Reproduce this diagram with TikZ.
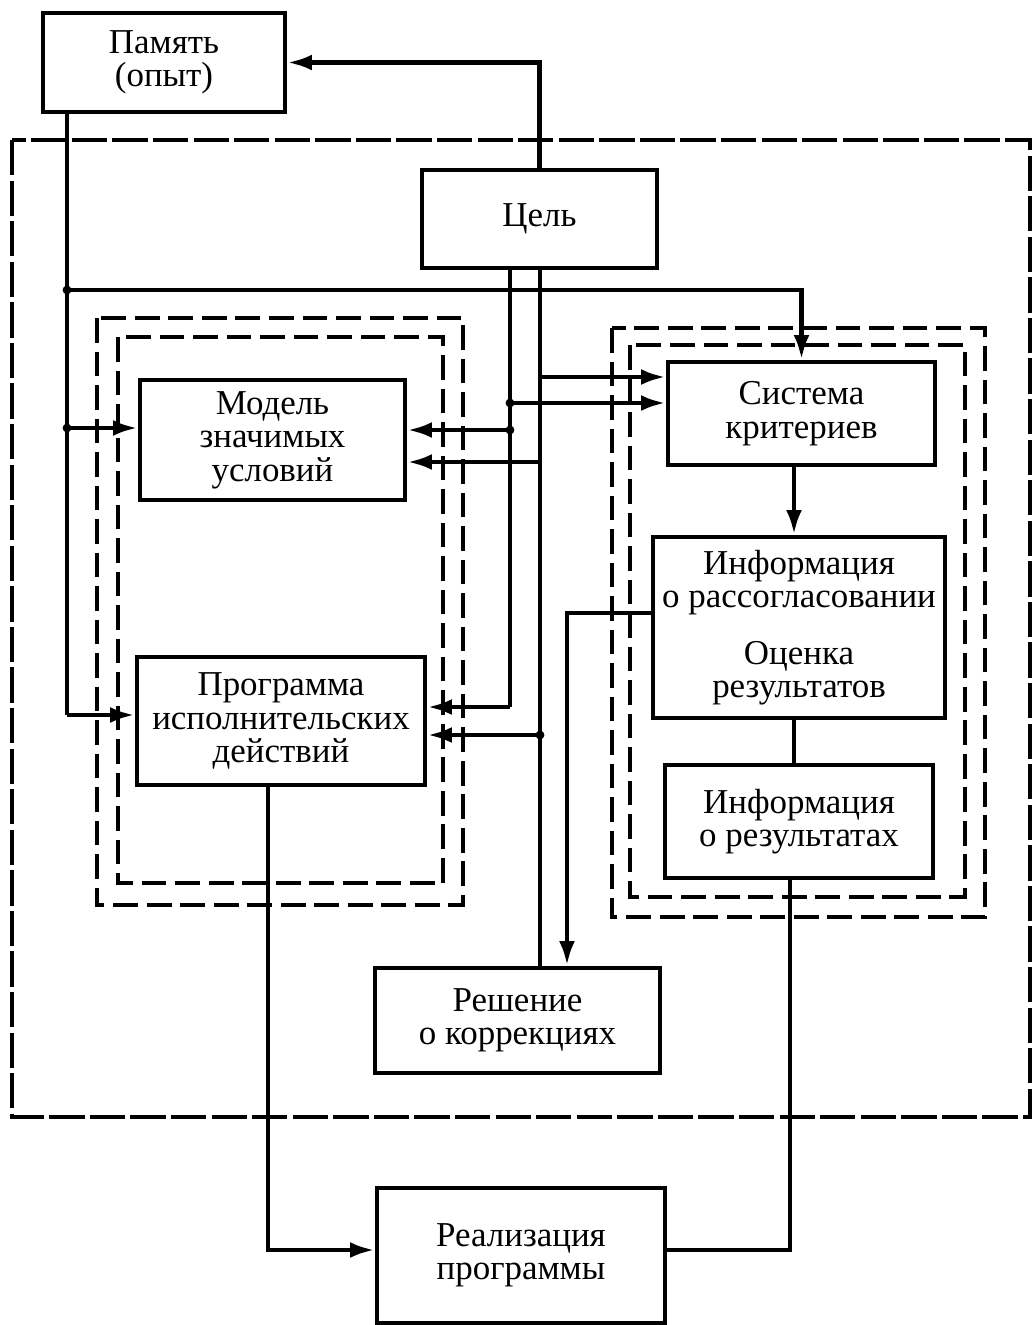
\documentclass[tikz,border=0pt]{standalone}
\usepackage{fontspec}
\setmainfont{Liberation Serif}
\usetikzlibrary{arrows.meta}
\begin{document}
\begin{tikzpicture}[x=0.5669pt, y=-0.5669pt,
  box/.style 2 args={draw, line width=2.6pt, fill=white, inner sep=0pt,
    align=center, font=\fontsize{19.8}{19}\selectfont,
    minimum width=#1*0.5669pt, minimum height=#2*0.5669pt},
  link/.style={line width=2.6pt},
  arr/.style={link, -{Latex[length=14pt,width=9pt]}},
  outerframe/.style={line width=2pt, dash pattern=on 20pt off 3pt},
  groupframe/.style={line width=2.6pt, dash pattern=on 14pt off 5pt},
  dot/.style={circle, fill, inner sep=0pt, minimum size=5pt}]
\useasboundingbox (0,0) rectangle (1032,1325);

% dashed frames
\draw[outerframe] (12,140) rectangle (1030,1117);
\draw[groupframe] (97,318) rectangle (463,905);
\draw[groupframe] (118,337) rectangle (443,883);
\draw[groupframe] (612,328) rectangle (985,917);
\draw[groupframe] (630,345) rectangle (965,897);

% blocks
\node[box={242}{99}] (mem) at (164,62.5) {Память\\(опыт)};
\node[box={235}{98}] (goal) at (539.5,219) {Цель};
\node[box={265}{120}] (model) at (272.5,440) {Модель\\значимых\\условий};
\node[box={288}{128}] (prog) at (281,721) {Программа\\исполнительских\\действий};
\node[box={267}{103}] (crit) at (801.5,413.5) {Система\\критериев};
\node[box={292}{181}] (mis) at (799,627.5) {Информация\\о рассогласовании\\[13pt]Оценка\\результатов};
\node[box={268}{113}] (res) at (799,821.5) {Информация\\о результатах};
\node[box={285}{105}] (dec) at (517.5,1020.5) {Решение\\о коррекциях};
\node[box={288}{135}] (real) at (521,1255.5) {Реализация\\программы};

% junction points
\coordinate (mtop) at (67,112);
\coordinate (mj1) at (67,290);
\coordinate (mj2) at (67,428);
\coordinate (mbot) at (67,715);
\coordinate (ga) at (510,268);
\coordinate (gb) at (540,268);
\coordinate (ga1) at (510,403);
\coordinate (ga2) at (510,430);
\coordinate (ga3) at (510,707);
\coordinate (gb1) at (540,377);
\coordinate (gb2) at (540,462);
\coordinate (gb3) at (540,735);
\coordinate (mis1) at (567,613);
\coordinate (cx) at (794,0);
\coordinate (pbot) at (268,1250);
\coordinate (rbot) at (790,1250);

% goal back to memory
\draw[arr] (goal.north) |- (mem.east);

% memory line
\draw[link] (mtop) -- (mbot);
\draw[arr] (mj1) -| (crit.north);
\draw[arr] (mj2) -- (model.west |- mj2);
\draw[arr] (mbot) -- (prog.west |- mbot);

% goal lines
\draw[link] (ga) -- (ga3);
\draw[arr] (ga1) -- (crit.west |- ga1);
\draw[arr] (ga2) -- (model.east |- ga2);
\draw[arr] (ga3) -- (prog.east |- ga3);
\draw[link] (gb) -- (dec.north -| gb);
\draw[arr] (gb1) -- (crit.west |- gb1);
\draw[arr] (gb2) -- (model.east |- gb2);
\draw[arr] (gb3) -- (prog.east |- gb3);

% evaluation loop
\draw[arr] (crit.south -| cx) -- (mis.north -| cx);
\draw[link] (mis.south -| cx) -- (res.north -| cx);
\draw[arr] (mis.west |- mis1) -- (mis1) -- (dec.north -| mis1);

% execution
\draw[arr] (prog.south -| pbot) -- (pbot) -- (real.west |- pbot);
\draw[link] (res.south -| rbot) -- (rbot) -- (real.east |- rbot);

% junction dots
\foreach \p in {mj1, mj2, ga1, ga2, gb3}
  \node[dot] at (\p) {};
\end{tikzpicture}
\end{document}
